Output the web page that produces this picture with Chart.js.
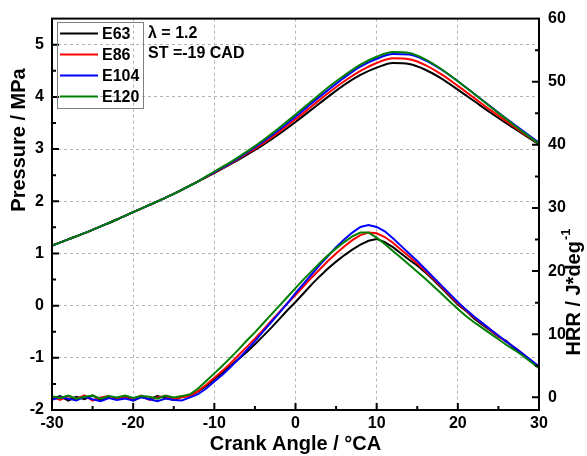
<!DOCTYPE html>
<html>
<head>
<meta charset="utf-8">
<title>Pressure and HRR</title>
<script src="https://cdn.jsdelivr.net/npm/chart.js@4.4.1/dist/chart.umd.min.js"></script>
<style>
  html, body { margin: 0; padding: 0; background: #fff; }
  canvas { display: block; }
</style>
</head>
<body>
<canvas id="chart" width="587" height="456"></canvas>
<script>
const seriesNames = ["E63", "E86", "E104", "E120"];
const seriesColors = ["#000000", "#ff0000", "#0000ff", "#008000"];

// crank angle for pressure traces (every 2 deg)
const angleP = [-30, -28, -26, -24, -22, -20, -18, -16, -14, -12, -10, -8, -6, -4, -2, 0,
  2, 4, 6, 8, 10, 12, 14, 16, 18, 20, 22, 24, 26, 28, 30];
const pE63 = [1.15, 1.27, 1.39, 1.52, 1.65, 1.79, 1.93, 2.07, 2.22, 2.38, 2.54, 2.71, 2.89, 3.08, 3.29, 3.52,
  3.76, 4.00, 4.23, 4.42, 4.56, 4.65, 4.63, 4.52, 4.35, 4.14, 3.92, 3.70, 3.49, 3.29, 3.09];
const pE86 = [1.15, 1.27, 1.39, 1.52, 1.65, 1.79, 1.93, 2.07, 2.22, 2.38, 2.55, 2.72, 2.91, 3.11, 3.33, 3.57,
  3.82, 4.07, 4.30, 4.50, 4.65, 4.74, 4.72, 4.61, 4.43, 4.21, 3.98, 3.75, 3.53, 3.31, 3.10];
const pE104 = [1.15, 1.27, 1.39, 1.52, 1.65, 1.79, 1.93, 2.07, 2.22, 2.38, 2.56, 2.73, 2.93, 3.14, 3.37, 3.62,
  3.88, 4.13, 4.37, 4.58, 4.73, 4.82, 4.81, 4.70, 4.52, 4.30, 4.06, 3.82, 3.58, 3.35, 3.12];
const pE120 = [1.15, 1.27, 1.39, 1.52, 1.65, 1.79, 1.93, 2.07, 2.22, 2.38, 2.57, 2.75, 2.95, 3.17, 3.41, 3.66,
  3.92, 4.18, 4.41, 4.62, 4.77, 4.86, 4.84, 4.72, 4.53, 4.30, 4.06, 3.81, 3.57, 3.33, 3.10];

// crank angle for heat release rate (every 1 deg)
const angleH = [-30, -29, -28, -27, -26, -25, -24, -23, -22, -21, -20, -19, -18, -17, -16, -15, -14,
  -13, -12, -11, -10, -9, -8, -7, -6, -5, -4, -3, -2, -1, 0, 1, 2, 3, 4, 5, 6, 7, 8, 9, 10,
  11, 12, 13, 14, 15, 16, 17, 18, 19, 20, 21, 22, 23, 24, 25, 26, 27, 28, 29, 30];
const hE63 = [-0.2, 0.2, -0.5, 0.1, -0.3, 0.3, -0.4, 0.0, -0.2, 0.2, -0.5, 0.1, -0.3, 0.2, -0.1, -0.4, 0.1,
  0.3, 0.9, 1.8, 2.9, 3.9, 5.0, 6.1, 7.2, 8.4, 9.7, 11.0, 12.4, 13.8, 15.1, 16.5, 17.9, 19.2, 20.4, 21.5, 22.5, 23.4, 24.2, 24.8, 25.1,
  24.6, 23.8, 22.8, 21.8, 20.9, 19.8, 18.6, 17.3, 16.0, 14.7, 13.7, 12.5, 11.5, 10.6, 9.6, 8.9, 7.7, 6.8, 5.8, 4.8];
const hE86 = [0.1, -0.4, 0.2, -0.2, 0.3, -0.5, 0.0, 0.2, -0.3, 0.1, -0.2, 0.3, -0.4, 0.0, 0.2, -0.3, 0.0,
  0.2, 1.0, 2.0, 3.1, 4.2, 5.4, 6.7, 8.0, 9.3, 10.7, 12.1, 13.5, 14.9, 16.2, 17.6, 19.0, 20.3, 21.6, 22.8, 23.9, 24.9, 25.7, 26.1, 26.0,
  25.4, 24.5, 23.4, 22.3, 21.2, 20.0, 18.8, 17.5, 16.2, 14.9, 13.8, 12.7, 11.7, 10.7, 9.7, 8.8, 7.9, 6.9, 5.8, 4.8];
const hE104 = [-0.4, 0.0, -0.2, -0.5, 0.1, -0.3, -0.6, -0.1, -0.4, -0.2, -0.5, 0.0, -0.3, -0.6, -0.2, -0.4, -0.5,
  0.0, 0.5, 1.4, 2.5, 3.6, 4.8, 6.1, 7.5, 8.9, 10.4, 11.9, 13.4, 14.9, 16.5, 18.0, 19.5, 21.0, 22.4, 23.8, 25.0, 26.1, 27.0, 27.3, 27.0,
  26.3, 25.2, 24.0, 22.8, 21.6, 20.3, 19.0, 17.7, 16.4, 15.1, 13.9, 12.8, 11.8, 10.8, 9.8, 8.8, 7.9, 6.9, 5.9, 4.9];
const hE120 = [0.2, -0.1, 0.3, -0.2, 0.1, 0.3, -0.2, 0.2, 0.0, 0.3, -0.1, 0.2, 0.1, -0.2, 0.3, 0.0, 0.2,
  0.5, 1.4, 2.6, 3.8, 5.0, 6.3, 7.6, 9.0, 10.3, 11.7, 13.1, 14.5, 15.9, 17.3, 18.7, 20.0, 21.3, 22.5, 23.6, 24.6, 25.5, 26.1, 26.1, 25.3,
  24.3, 23.2, 22.1, 21.0, 19.9, 18.8, 17.6, 16.4, 15.2, 14.0, 12.9, 11.9, 11.0, 10.1, 9.2, 8.3, 7.5, 6.6, 5.6, 4.6];

const pressure = [pE63, pE86, pE104, pE120];
const hrr = [hE63, hE86, hE104, hE120];

const FONT = "'Liberation Sans', Arial, Helvetica, sans-serif";

function toPoints(xs, ys) {
  return xs.map((x, i) => ({ x: x, y: ys[i] }));
}

const datasets = [];
seriesNames.forEach((name, i) => {
  datasets.push({
    label: name,
    data: toPoints(angleP, pressure[i]),
    yAxisID: "y",
    borderColor: seriesColors[i],
    borderWidth: 2,
    pointRadius: 0,
    cubicInterpolationMode: "monotone",
    order: 4 - i
  });
  datasets.push({
    label: name + " HRR",
    data: toPoints(angleH, hrr[i]),
    yAxisID: "y1",
    borderColor: seriesColors[i],
    borderWidth: 2,
    pointRadius: 0,
    tension: 0,
    order: 4 - i
  });
});

// frame, inward ticks, legend, notes and the two side titles
const decorations = {
  id: "decorations",
  afterDraw(chart) {
    const ctx = chart.ctx;
    const a = chart.chartArea;
    const sx = chart.scales.x, sy = chart.scales.y, sr = chart.scales.y1;
    ctx.save();

    ctx.strokeStyle = "#000";
    ctx.lineWidth = 2;
    ctx.strokeRect(a.left, a.top, a.right - a.left, a.bottom - a.top);

    ctx.beginPath();
    for (let v = -25; v < 30; v += 5) {
      const px = sx.getPixelForValue(v);
      const len = v % 10 === 0 ? 7 : 4;
      ctx.moveTo(px, a.bottom); ctx.lineTo(px, a.bottom - len);
    }
    for (let v = -1.5; v < 5.5; v += 0.5) {
      const py = sy.getPixelForValue(v);
      const len = Number.isInteger(v) ? 7 : 4;
      ctx.moveTo(a.left, py); ctx.lineTo(a.left + len, py);
    }
    for (let v = 0; v < 60; v += 5) {
      const py = sr.getPixelForValue(v);
      const len = v % 10 === 0 ? 7 : 4;
      ctx.moveTo(a.right, py); ctx.lineTo(a.right - len, py);
    }
    ctx.stroke();

    // legend
    ctx.lineWidth = 1;
    ctx.strokeStyle = "#808080";
    ctx.strokeRect(57.5, 22.5, 86, 86);
    ctx.font = "bold 16px " + FONT;
    ctx.textBaseline = "middle";
    ctx.textAlign = "left";
    seriesNames.forEach((name, i) => {
      const y = 33.5 + i * 21;
      ctx.strokeStyle = seriesColors[i];
      ctx.lineWidth = 2;
      ctx.beginPath();
      ctx.moveTo(60, y); ctx.lineTo(98, y);
      ctx.stroke();
      ctx.fillStyle = "#000";
      ctx.fillText(name, 102, y + 1);
    });

    ctx.fillText("\u03bb = 1.2", 148, 34);
    ctx.fillText("ST =-19 CAD", 148, 54);

    // left title
    ctx.save();
    ctx.translate(19, 140);
    ctx.rotate(-Math.PI / 2);
    ctx.font = "bold 20px " + FONT;
    ctx.textAlign = "center";
    ctx.fillText("Pressure / MPa", 0, 0);
    ctx.restore();

    // right title with superscript
    ctx.save();
    ctx.translate(574, 292);
    ctx.rotate(-Math.PI / 2);
    ctx.font = "bold 20px " + FONT;
    const main = "HRR / J*deg";
    const w1 = ctx.measureText(main).width;
    ctx.font = "bold 13px " + FONT;
    const w2 = ctx.measureText("-1").width;
    const start = -(w1 + w2 + 1) / 2;
    ctx.textAlign = "left";
    ctx.font = "bold 20px " + FONT;
    ctx.fillText(main, start, 0);
    ctx.font = "bold 13px " + FONT;
    ctx.fillText("-1", start + w1 + 1, -8);
    ctx.restore();

    ctx.restore();
  }
};

const tickFont = { family: FONT, size: 16, weight: "bold" };

new Chart(document.getElementById("chart"), {
  type: "line",
  data: { datasets: datasets },
  options: {
    responsive: false,
    animation: false,
    layout: { padding: { top: 18, left: 0, right: 0, bottom: 0 } },
    plugins: { legend: { display: false }, tooltip: { enabled: false } },
    scales: {
      x: {
        type: "linear",
        min: -30, max: 30,
        ticks: { stepSize: 10, color: "#000", font: tickFont, padding: 4, maxRotation: 0 },
        grid: { color: "#b4b4b4", lineWidth: 1, drawTicks: false },
        border: { display: false, dash: [3, 3] },
        title: {
          display: true, text: "Crank Angle / \u00b0CA", color: "#000",
          font: { family: FONT, size: 20, weight: "bold" }, padding: { top: 0, bottom: 0 }
        },
        afterFit(scale) { scale.height = 46; }
      },
      y: {
        position: "left",
        min: -2, max: 5.5,
        ticks: { stepSize: 1, includeBounds: false, color: "#000", font: tickFont, padding: 8 },
        grid: { color: "#b4b4b4", lineWidth: 1, drawTicks: false },
        border: { display: false, dash: [3, 3] },
        afterFit(scale) { scale.width = 52; }
      },
      y1: {
        position: "right",
        min: -2, max: 60,
        ticks: { stepSize: 10, includeBounds: false, color: "#000", font: tickFont, padding: 9 },
        grid: { display: false, drawTicks: false },
        border: { display: false },
        afterFit(scale) { scale.width = 48; }
      }
    }
  },
  plugins: [decorations]
});
</script>
</body>
</html>
